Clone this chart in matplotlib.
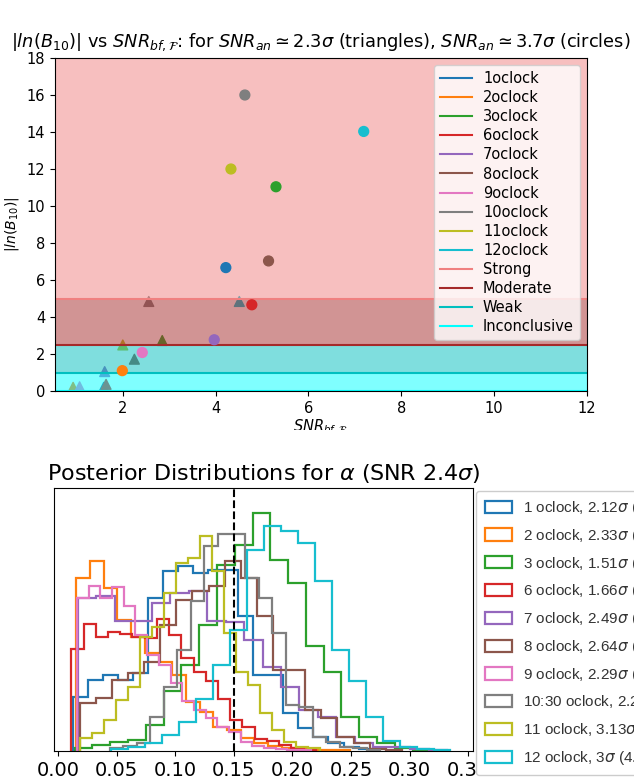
import matplotlib
matplotlib.use("Agg")
import matplotlib.pyplot as plt
import numpy as np
from matplotlib.transforms import Bbox, TransformedBbox

# ---- top panel data ----
clocks = ["1oclock", "2oclock", "3oclock", "6oclock", "7oclock",
          "8oclock", "9oclock", "10oclock", "11oclock", "12oclock"]
colors = ["C0", "C1", "C2", "C3", "C4", "C5", "C6", "C7", "C8", "C9"]
circ_x = [4.22, 1.99, 5.30, 4.78, 3.97, 5.14, 2.42, 4.63, 4.33, 7.19]
circ_y = [6.67, 1.10, 11.04, 4.66, 2.77, 7.03, 2.08, 16.0, 12.0, 14.03]
tri_x = [1.59, 0.93, 2.85, 1.64, 1.61, 2.25, 1.07, 2.56, 2.00, 4.51]
tri_y = [0.20, 0.20, 2.73, 0.36, 1.05, 1.72, 0.23, 4.84, 2.49, 4.84]

levels = ["Strong", "Moderate", "Weak", "Inconclusive"]
level_colors = ["lightcoral", "brown", "c", "cyan"]
level_lo = [5, 2.5, 1, 0]
level_hi = [18, 5, 2.5, 1]

# ---- bottom panel data (20-bin step histograms) ----
hist_labels = [r"1 oclock, 2.12$\sigma$ (1.93$\sigma$)",
               r"2 oclock, 2.33$\sigma$ (0.93$\sigma$)",
               r"3 oclock, 1.51$\sigma$ (2.85$\sigma$)",
               r"6 oclock, 1.66$\sigma$ (1.64$\sigma$)",
               r"7 oclock, 2.49$\sigma$ (1.61$\sigma$)",
               r"8 oclock, 2.64$\sigma$ (2.25$\sigma$)",
               r"9 oclock, 2.29$\sigma$ (1.07$\sigma$)",
               r"10:30 oclock, 2.26$\sigma$ (2.56$\sigma$)",
               r"11 oclock, 3.13$\sigma$ (2.00$\sigma$)",
               r"12 oclock, 3$\sigma$ (4.51$\sigma$)"]
hist_lo = [0.0128, 0.0157, 0.0142, 0.0114, 0.0171, 0.0185, 0.0162, 0.0442, 0.0185, 0.0456]
hist_hi = [0.2692, 0.2493, 0.3177, 0.2199, 0.3319, 0.2934, 0.2157, 0.2749, 0.2236, 0.3348]
h_blue = [161, 213, 228, 213, 235, 458, 538, 555, 533, 543, 543, 403, 228, 228, 113, 68, 43, 23, 13, 6]
h_orange = [518, 568, 488, 393, 343, 293, 268, 228, 148, 118, 73, 63, 38, 23, 16, 10, 6, 4, 3, 2]
h_green = [10, 18, 28, 33, 78, 180, 258, 378, 558, 618, 713, 573, 503, 316, 238, 101, 43, 23, 8, 3]
h_red = [305, 381, 343, 358, 351, 343, 338, 395, 348, 278, 238, 211, 156, 93, 73, 36, 30, 18, 8, 3]
h_purple = [458, 463, 391, 391, 443, 473, 478, 391, 388, 333, 251, 193, 123, 103, 43, 23, 13, 11, 5, 3]
h_brown = [145, 158, 213, 233, 268, 378, 453, 478, 495, 570, 518, 403, 243, 243, 123, 98, 43, 23, 5, 4]
h_pink = [458, 493, 458, 491, 435, 348, 288, 258, 203, 150, 123, 98, 73, 58, 26, 16, 10, 6, 4, 2]
h_gray = [8, 16, 23, 103, 193, 303, 448, 613, 651, 651, 518, 458, 353, 138, 133, 43, 28, 13, 8, 4]
h_olive = [38, 55, 93, 153, 191, 343, 373, 473, 563, 578, 643, 538, 353, 238, 198, 113, 63, 26, 13, 8]
h_cyan = [5, 13, 23, 48, 88, 155, 258, 363, 603, 673, 658, 623, 508, 303, 210, 101, 30, 13, 5, 3]
heights = [h_blue, h_orange, h_green, h_red, h_purple, h_brown, h_pink, h_gray, h_olive, h_cyan]
alpha_true = 0.15

fig = plt.figure(figsize=(6.34, 7.84), dpi=100)

# ===== top panel =====
ax1 = fig.add_axes([55 / 634, 1 - 391 / 784, 532 / 634, 333 / 784])
ax1.scatter(tri_x, tri_y, c=colors, marker="^", s=50, zorder=0.5)
for lev, col, lo, hi in zip(levels, level_colors, level_lo, level_hi):
    ax1.axhspan(lo, hi, color=col, alpha=0.5, lw=0, zorder=1)
for name, col in zip(clocks, colors):
    ax1.plot([], [], color=col, label=name)
for lev, col, lo in zip(levels, level_colors, level_lo):
    ax1.axhline(lo, color=col, label=lev, zorder=2)
ax1.scatter(circ_x, circ_y, c=colors, marker="o", s=50, zorder=3)
ax1.set_xlim(0.54, 12)
ax1.set_ylim(0, 18)
ax1.set_xticks([2, 4, 6, 8, 10, 12])
ax1.set_yticks(range(0, 19, 2))
ax1.tick_params(labelsize=10.5)
ax1.set_title(r"$|ln(B_{10})|$ vs $SNR_{bf,\mathcal{F}}$: for $SNR_{an} \simeq 2.3\sigma$ (triangles), "
              r"$SNR_{an} \simeq 3.7\sigma$ (circles)", fontsize=12.8, pad=8)
ax1.set_ylabel(r"$|ln(B_{10})|$")
ax1.set_xlabel(r"$SNR_{bf,\mathcal{F}}$", fontsize=10.5, labelpad=1.5)
ax1.legend(loc="upper right", fontsize=10.5, labelspacing=0.28, handlelength=2.2,
           handletextpad=0.75)
clip = TransformedBbox(Bbox([[0, 1 - 430 / 784], [1, 1]]), fig.transFigure)
ax1.xaxis.label.set_clip_box(clip)
ax1.xaxis.label.set_clip_on(True)

# ===== bottom panel =====
ax2 = fig.add_axes([54 / 634, 1 - 751 / 784, 419 / 634, 263 / 784])
for lab, col, lo, hi, h in zip(hist_labels, colors, hist_lo, hist_hi, heights):
    edges = np.linspace(lo, hi, 21)
    ax2.hist(edges[:-1], bins=edges, weights=h, histtype="step", lw=1.6,
             color=col, label=lab)
ax2.axvline(alpha_true, color="k", ls="--", lw=1.5)
ax2.set_xlim(-0.0034, 0.354)
ax2.set_ylim(0, 788)
ax2.set_yticks([])
ax2.set_xticks(np.arange(0, 0.36, 0.05))
ax2.tick_params(axis="x", labelsize=14)
ax2.set_title(r"Posterior Distributions for $\alpha$ (SNR 2.4$\sigma$)", fontsize=16)
leg = ax2.legend(loc="upper left", bbox_to_anchor=(1.008, 0.99), framealpha=1,
                 borderaxespad=0, borderpad=0.55, handlelength=1.8, handleheight=0.85,
                 handletextpad=0.72, labelspacing=0.64,
                 prop={"family": ["Liberation Sans", "DejaVu Sans"], "size": 11})
for t in leg.get_texts():
    t.set_color("#333333")

fig.savefig("out.png", dpi=100)
